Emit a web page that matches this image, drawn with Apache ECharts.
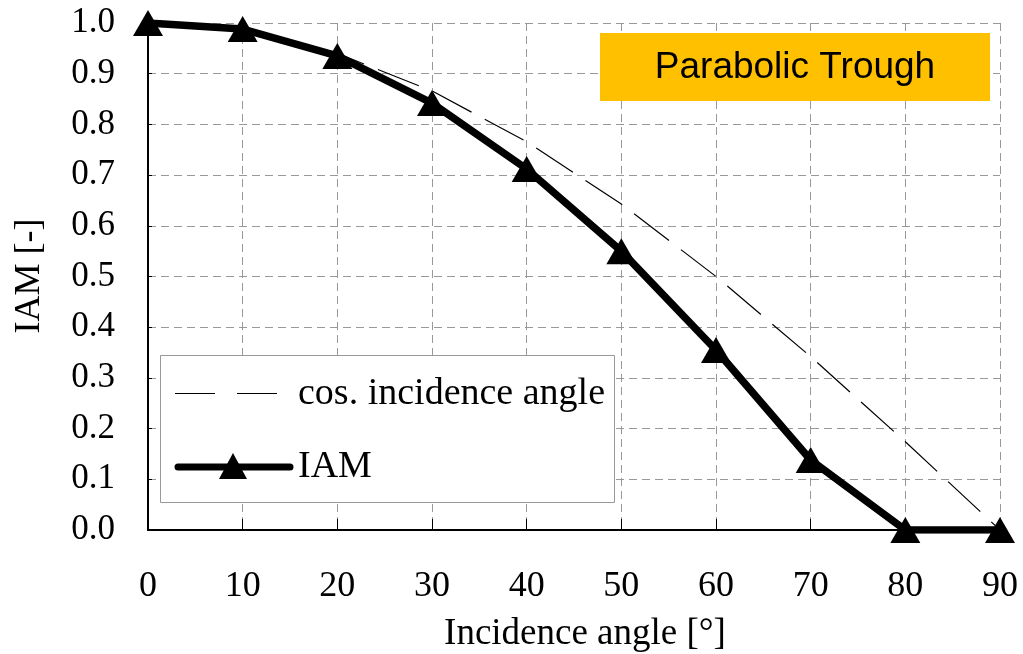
<!DOCTYPE html>
<html><head><meta charset="utf-8">
<script src="https://cdn.jsdelivr.net/npm/echarts@6/dist/echarts.min.js"></script>
<style>html,body{margin:0;padding:0;background:#fff}#c{width:1023px;height:654px}</style>
</head><body><div id="c"></div>
<script>
const angles = [0, 10, 20, 30, 40, 50, 60, 70, 80, 90];
const cosValues = [1.0, 0.985, 0.94, 0.866, 0.766, 0.643, 0.5, 0.342, 0.174, 0.0];
const iamValues = [1.0, 0.988, 0.935, 0.842, 0.712, 0.55, 0.355, 0.138, 0.0, 0.0];
const seriesNames = ['cos. incidence angle', 'IAM'];
const xTitle = 'Incidence angle [°]';
const yTitle = 'IAM [-]';
const boxLabel = 'Parabolic Trough';

const serif = '"Liberation Serif", "DejaVu Serif", serif';
const chart = echarts.init(document.getElementById('c'), null, {renderer: 'canvas'});
chart.setOption({
  animation: false,
  backgroundColor: '#fff',
  grid: {left: 148, right: 23, top: 23, bottom: 124, containLabel: false},
  xAxis: {
    type: 'value', min: 0, max: 90, interval: 10,
    axisLine: {show: true, onZero: false, lineStyle: {color: '#000', width: 2}},
    axisTick: {show: true, inside: true, length: 11, lineStyle: {color: '#000', width: 1}},
    axisLabel: {margin: 39, color: '#000', fontFamily: serif, fontSize: 36},
    splitLine: {show: true, lineStyle: {color: '#999', width: 1, type: [8, 5]}}
  },
  yAxis: [{
    type: 'value', min: 0, max: 1, interval: 0.1,
    axisLine: {show: true, onZero: false, lineStyle: {color: '#000', width: 2}},
    axisTick: {show: true, inside: true, length: 4, lineStyle: {color: '#000', width: 1}},
    axisLabel: {margin: 33, color: '#000', fontFamily: serif, fontSize: 35,
      formatter: v => v.toFixed(1)},
    splitLine: {show: true, lineStyle: {color: '#999', width: 1, type: [8, 5]}}
  }, {
    type: 'value', min: 0, max: 1, position: 'right',
    axisLine: {show: true, lineStyle: {color: '#000', width: 1}},
    axisTick: {show: false}, axisLabel: {show: false}, splitLine: {show: false}
  }],
  series: [{
    name: seriesNames[0], type: 'line',
    data: angles.map((a, i) => [a, cosValues[i]]),
    showSymbol: false, symbol: 'none',
    lineStyle: {color: '#000', width: 1.2, type: [44, 15]},
    itemStyle: {color: '#000'}, z: 3
  }, {
    name: seriesNames[1], type: 'line',
    data: angles.map((a, i) => [a, iamValues[i]]),
    symbol: 'triangle', symbolSize: [30, 26],
    lineStyle: {color: '#000', width: 7.5},
    itemStyle: {color: '#000'}, z: 4
  }],
  graphic: [{
    type: 'rect', left: 600, top: 33, z: 10,
    shape: {width: 390, height: 68}, style: {fill: '#FFC000'}
  }, {
    type: 'text', z: 11, x: 795, y: 68,
    style: {text: boxLabel, fill: '#000', font: '37px "Liberation Sans", Arial, sans-serif',
      textAlign: 'center', textVerticalAlign: 'middle'}
  }, {
    type: 'text', x: 585, y: 634,
    style: {text: xTitle, fill: '#000', font: '37px ' + serif,
      textAlign: 'center', textVerticalAlign: 'middle'}
  }, {
    type: 'text', x: 30, y: 276, rotation: Math.PI / 2,
    style: {text: yTitle, fill: '#000', font: '36px ' + serif,
      textAlign: 'center', textVerticalAlign: 'middle'}
  },
  // legend box
  {
    type: 'rect', z: 20, shape: {x: 160.5, y: 355.5, width: 454, height: 147},
    style: {fill: '#fff', stroke: '#999', lineWidth: 1}
  }, {
    type: 'line', z: 21, shape: {x1: 175, y1: 393.5, x2: 280, y2: 393.5},
    style: {stroke: '#000', lineWidth: 1, lineDash: [40, 22]}
  }, {
    type: 'text', z: 21, x: 298, y: 394,
    style: {text: seriesNames[0], fill: '#000', font: '38px ' + serif,
      textAlign: 'left', textVerticalAlign: 'middle'}
  }, {
    type: 'line', z: 21, shape: {x1: 178, y1: 467, x2: 290, y2: 467},
    style: {stroke: '#000', lineWidth: 7, lineCap: 'round'}
  }, {
    type: 'polygon', z: 22, shape: {points: [[233, 453], [247, 479], [219, 479]]},
    style: {fill: '#000'}
  }, {
    type: 'text', z: 21, x: 298, y: 467,
    style: {text: seriesNames[1], fill: '#000', font: '38px ' + serif,
      textAlign: 'left', textVerticalAlign: 'middle'}
  }]
});
</script></body></html>
